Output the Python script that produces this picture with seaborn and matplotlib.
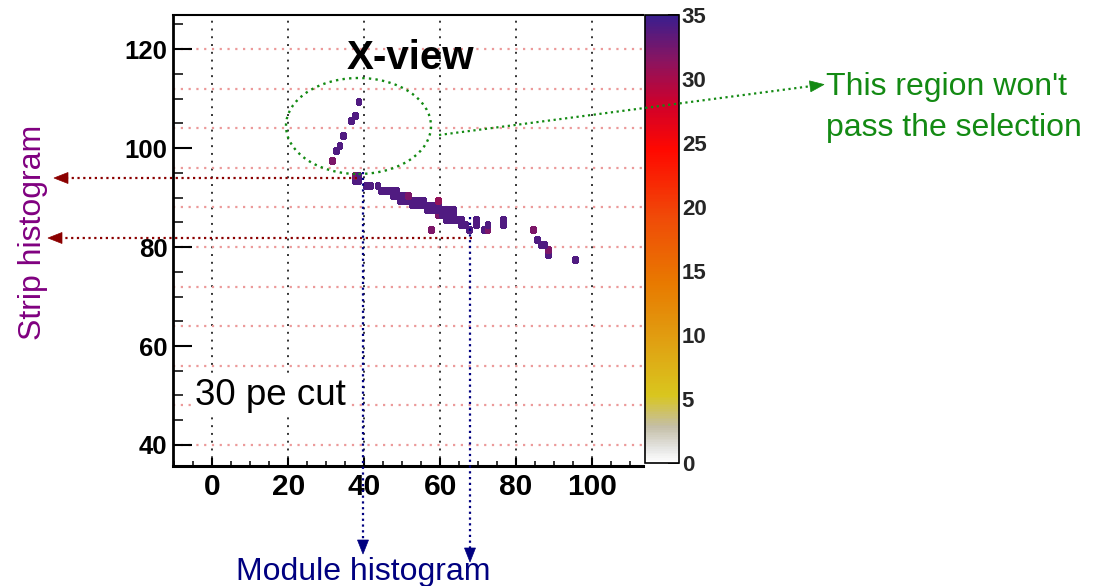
import numpy as np
import pandas as pd
import matplotlib
matplotlib.use("Agg")
import matplotlib.pyplot as plt
import seaborn as sns
from matplotlib.colors import LinearSegmentedColormap
from matplotlib.lines import Line2D
from matplotlib.patches import Ellipse, Polygon
from matplotlib.transforms import IdentityTransform
from matplotlib.ticker import MultipleLocator

# ---------------- data: hit cells (module index, strip index, photo-electrons) ----
module_x = [31, 32, 33, 34, 36, 37, 38,
            37, 38, 37, 38,
            40, 41, 43,
            44, 45, 46, 47, 48,
            47, 48, 49, 50, 51,
            49, 50, 51, 52, 53, 54, 55, 59,
            52, 53, 54, 55, 56, 57, 58, 59,
            56, 57, 58, 59, 60, 61, 62, 63,
            59, 60, 61, 62, 63,
            61, 62, 63, 64,
            65, 65, 66, 67, 69, 69,
            71, 72, 72, 76, 76, 57,
            84, 85, 86, 87, 88, 88, 95]
strip_y = [97, 99, 100, 102, 105, 106, 109,
           94, 94, 93, 93,
           92, 92, 92,
           91, 91, 91, 91, 91,
           90, 90, 90, 90, 90,
           89, 89, 89, 89, 89, 89, 89, 89,
           88, 88, 88, 88, 88, 88, 88, 88,
           87, 87, 87, 87, 87, 87, 87, 87,
           86, 86, 86, 86, 86,
           85, 85, 85, 85,
           85, 84, 84, 83, 85, 84,
           83, 83, 84, 85, 84, 83,
           83, 81, 80, 80, 79, 78, 77]
pe_val = [32, 34, 34, 34, 34, 34, 34,
          32, 34, 34, 34,
          34, 34, 34,
          34, 34, 34, 34, 34,
          34, 34, 34, 34, 32,
          34, 34, 34, 34, 34, 34, 34, 31,
          34, 34, 34, 34, 34, 34, 34, 34,
          34, 34, 34, 34, 34, 34, 34, 34,
          32, 34, 34, 34, 34,
          34, 34, 34, 34,
          34, 34, 34, 34, 34, 34,
          34, 32, 34, 34, 34, 32,
          32, 34, 34, 34, 32, 34, 34]

x_tick_vals = [0, 20, 40, 60, 80, 100]
y_tick_vals = [40, 60, 80, 100, 120]
z_tick_vals = [0, 5, 10, 15, 20, 25, 30, 35]

title_text = "X-view"
cut_text = "30 pe cut"
region_text = "This region won't\npass the selection"
strip_text = "Strip histogram"
module_text = "Module histogram"

# ---------------- style ----------------
sns.set_style("white")
plt.rcParams['font.family'] = ['Liberation Sans', 'DejaVu Sans']

W, H = 1099, 586
fig = plt.figure(figsize=(W / 100, H / 100), dpi=100)
fig.patch.set_facecolor("white")

def fx(x):
    return x / W

def fy(y):
    return 1 - y / H

ax = fig.add_axes([fx(173), fy(466), (643 - 173) / W, (466 - 15) / H])
cax = fig.add_axes([fx(645), fy(463), (679 - 645) / W, (463 - 15) / H])

cmap = LinearSegmentedColormap.from_list("root_pal", [
    (0.00, "#ffffff"),
    (0.03, "#e6e6e4"),
    (0.08, "#c4bea6"),
    (0.15, "#d9c61e"),
    (0.27, "#e0a012"),
    (0.40, "#e87a00"),
    (0.55, "#f04a08"),
    (0.70, "#ff0800"),
    (0.80, "#d0002a"),
    (0.90, "#8a1460"),
    (1.00, "#3a1e8e"),
])

df = pd.DataFrame({"module": module_x, "strip": strip_y, "pe": pe_val})

# grid (below the cells)
for gx in np.arange(0, 101, 20):
    ax.axvline(gx, color="#333333", lw=1.4, ls=(0, (1, 3)), zorder=0.5)
for gy in np.arange(40, 121, 8):
    ax.axhline(gy, color="#ec9a9a", lw=1.6, ls=(0, (1, 2.5)), zorder=0.5)

sns.histplot(data=df, x="module", y="strip", weights="pe",
             binwidth=1, binrange=((-10, 114), (35, 127)),
             cmap=cmap, vmin=0, vmax=35, cbar=True, cbar_ax=cax, ax=ax,
             edgecolor="face", linewidth=0.8)

ax.set_xlim(-10.3, 113.4)
ax.set_ylim(35.75, 126.9)
ax.set_xlabel("")
ax.set_ylabel("")

ax.set_xticks(x_tick_vals, [str(v) for v in x_tick_vals], fontsize=21.5, fontweight="bold")
ax.set_yticks(y_tick_vals, [str(v) for v in y_tick_vals], fontsize=18.5, fontweight="bold")
ax.xaxis.set_minor_locator(MultipleLocator(5))
ax.yaxis.set_minor_locator(MultipleLocator(5))
ax.tick_params(axis="x", which="major", direction="in", length=6, width=1.5, pad=5, colors="black")
ax.tick_params(axis="x", which="minor", direction="in", length=3.5, width=1.3)
ax.tick_params(axis="y", which="major", direction="in", length=14, width=1.5, pad=4, colors="black")
ax.tick_params(axis="y", which="minor", direction="in", length=7.5, width=1.3)
ax.tick_params(bottom=True, left=True, top=False, right=False, which="both")

ax.spines["right"].set_visible(False)
ax.spines["left"].set_linewidth(2)
ax.spines["bottom"].set_linewidth(2.2)
ax.spines["top"].set_linewidth(1.5)
for s in ax.spines.values():
    s.set_color("black")

# colorbar
cax.set_yticks(z_tick_vals, [str(v) for v in z_tick_vals], fontsize=16, fontweight="bold")
cax.tick_params(axis="y", which="major", direction="in", length=8, width=1.4, pad=2,
                right=True, left=False, labelright=True, labelleft=False)
cax.minorticks_off()
for s in cax.spines.values():
    s.set_linewidth(1.2)
    s.set_color("black")

# in-plot text
idt = IdentityTransform()
fig.text(410, H - 58, title_text, transform=idt, fontsize=29, fontweight="bold",
         ha="center", va="center", color="black")
fig.text(195, H - 405, cut_text, transform=idt, fontsize=26.5, ha="left", va="baseline",
         color="black", bbox=dict(facecolor="white", edgecolor="none", pad=1))

# ---------------- annotations ----------------
def dline(x0, y0, x1, y1, color, lw=1.6, ls=(0, (1, 1.6))):
    fig.add_artist(Line2D([x0, x1], [H - y0, H - y1], transform=idt,
                          color=color, lw=lw, ls=ls))

def head(tx, ty, dx, dy, color, length=14, width=11):
    n = np.hypot(dx, dy)
    ux, uy = dx / n, dy / n
    px, py = -uy, ux
    bx, by = tx - ux * length, ty - uy * length
    pts = [(tx, H - ty),
           (bx + px * width / 2, H - (by + py * width / 2)),
           (bx - px * width / 2, H - (by - py * width / 2))]
    fig.add_artist(Polygon(pts, closed=True, transform=idt, facecolor=color,
                           edgecolor=color, lw=0.5))

green = "#138a13"
fig.add_artist(Ellipse((358.5, H - 126), 145, 96, transform=idt, fill=False,
                       edgecolor=green, lw=1.7, ls=(0, (1, 1.8))))
dline(439, 135, 812, 86, green)
head(824, 84.5, 824 - 439, 84.5 - 135, green, length=14, width=11)
fig.text(826, H - 136, region_text, transform=idt, fontsize=23, color=green,
         ha="left", va="baseline", linespacing=1.5)

dred = "#8b0000"
dline(357, 178, 66, 178, dred)
head(54, 178, -1, 0, dred)
dline(472, 238, 60, 238, dred)
head(48, 238, -1, 0, dred)

navy = "#000080"
dline(363, 172, 363, 541, navy)
head(363, 554, 0, 1, navy)
dline(470, 217, 470, 549, navy)
head(470, 562, 0, 1, navy)

fig.text(33, H - 232, strip_text, transform=idt, fontsize=23, color="#800080",
         rotation=90, ha="center", va="center")
fig.text(363, H - 580, module_text, transform=idt, fontsize=23, color=navy,
         ha="center", va="baseline")

fig.savefig("out.png", dpi=100)
